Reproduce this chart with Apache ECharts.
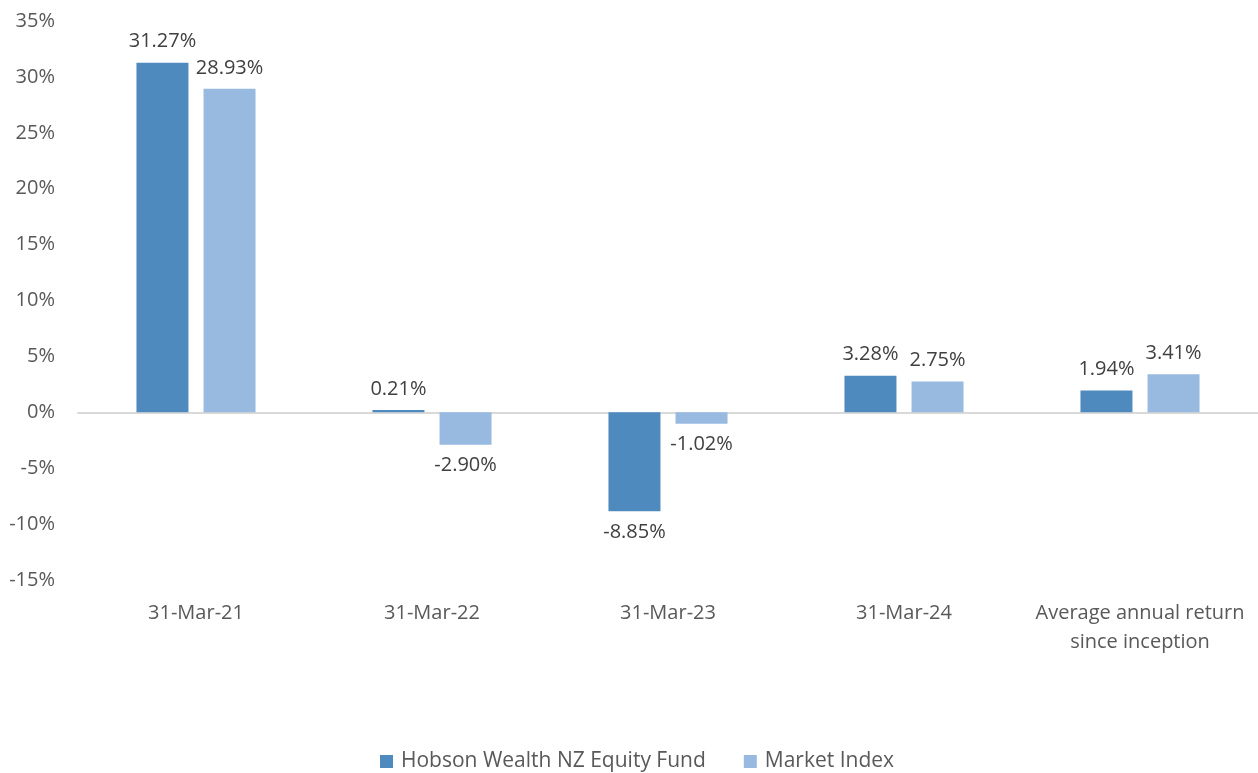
<!DOCTYPE html>
<html>
<head>
<meta charset="utf-8">
<script src="https://cdn.jsdelivr.net/npm/echarts@6/dist/echarts.min.js"></script>
<style>
  html, body { margin: 0; padding: 0; background: #fff; }
  #chart { width: 1258px; height: 773px; }
</style>
</head>
<body>
<div id="chart"></div>
<script>
// categories and values (percent)
const categories = ['31-Mar-21', '31-Mar-22', '31-Mar-23', '31-Mar-24', 'Average annual return\nsince inception'];
const fundValues = [31.27, 0.21, -8.85, 3.28, 1.94];
const indexValues = [28.93, -2.90, -1.02, 2.75, 3.41];
const seriesNames = ['Hobson Wealth NZ Equity Fund', 'Market Index'];
const colorArr = ['#4f8abe', '#98bae0'];

const font = '"Open Sans", "Noto Sans", sans-serif';
const textColor = '#595959';

// negative bars get their label underneath
function toItems(arr) {
  return arr.map(v => ({
    value: v,
    label: { position: v < 0 ? 'bottom' : 'top' }
  }));
}

const chart = echarts.init(document.getElementById('chart'));

const barLabel = {
  show: true,
  distance: 11,
  color: '#404040',
  fontSize: 20,
  fontFamily: font,
  formatter: p => p.value.toFixed(2) + '%'
};

const option = {
  animation: false,
  textStyle: { fontFamily: font },
  grid: { left: 78, right: 0, top: 21, bottom: 193 },
  legend: {
    top: 746,
    left: 375,
    itemWidth: 13,
    itemHeight: 13,
    itemGap: 38,
    icon: 'rect',
    textStyle: { fontFamily: font, fontSize: 21, color: textColor, padding: [0, 0, 0, 3] },
    data: seriesNames
  },
  xAxis: [
    {
      type: 'category',
      data: categories,
      position: 'bottom',
      axisLine: { show: false, onZero: false },
      axisTick: { show: false },
      axisLabel: {
        color: textColor,
        fontSize: 20,
        fontFamily: font,
        margin: 19,
        lineHeight: 29,
        interval: 0
      }
    },
    {
      // zero line only
      type: 'category',
      data: categories,
      axisLine: { show: true, onZero: true, lineStyle: { color: '#d9d9d9', width: 2 } },
      axisTick: { show: false },
      axisLabel: { show: false }
    }
  ],
  yAxis: {
    type: 'value',
    min: -15,
    max: 35,
    interval: 5,
    axisLine: { show: false },
    axisTick: { show: false },
    splitLine: { show: false },
    axisLabel: {
      formatter: '{value}%',
      color: textColor,
      fontSize: 20,
      fontFamily: font,
      margin: 23
    }
  },
  series: [
    {
      name: seriesNames[0],
      type: 'bar',
      xAxisIndex: 0,
      data: toItems(fundValues),
      barWidth: 52,
      barGap: '29%',
      itemStyle: { color: colorArr[0] },
      label: barLabel
    },
    {
      name: seriesNames[1],
      type: 'bar',
      xAxisIndex: 0,
      data: toItems(indexValues),
      barWidth: 52,
      barGap: '29%',
      itemStyle: { color: colorArr[1] },
      label: barLabel
    }
  ]
};

chart.setOption(option);
</script>
</body>
</html>
